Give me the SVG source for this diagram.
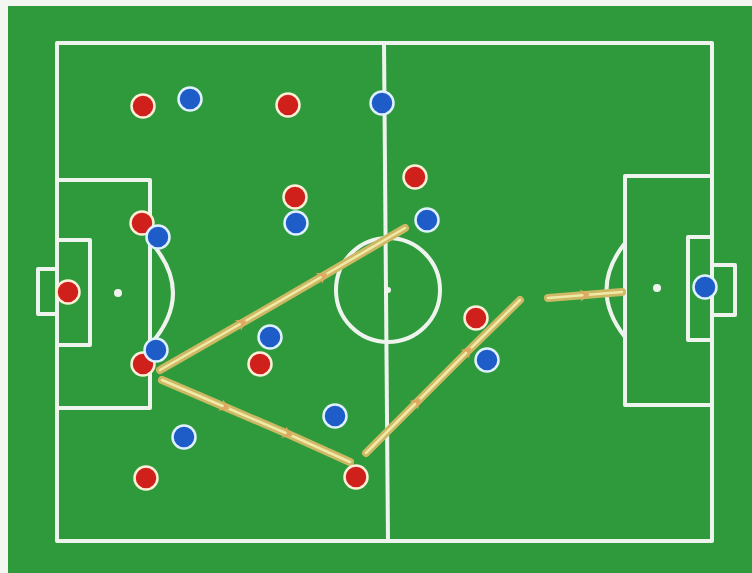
<svg xmlns="http://www.w3.org/2000/svg" width="752" height="573" viewBox="0 0 752 573">
<style>
.ln{fill:none;stroke:#eef3ee;stroke-width:4;stroke-linejoin:round}
.red{fill:#d0201c;stroke:#fbefd8;stroke-width:2.5}
.blue{fill:#1e5cc8;stroke:#dff0ff;stroke-width:2.5}
.passo{fill:none;stroke:#cdb864;stroke-width:8;stroke-linecap:round}
.passi{fill:none;stroke:#f1e9a8;stroke-width:2.5;stroke-linecap:round}
</style>
<defs>
<marker id="chev" viewBox="0 0 10 10" refX="5" refY="5" markerWidth="5" markerHeight="5" orient="auto" markerUnits="strokeWidth">
<path d="M1,0 L9,5 L1,10 L4,5 Z" fill="#e0a860"/>
</marker>
</defs>
<rect x="0" y="0" width="752" height="573" fill="#f4f6f2"/>
<rect x="8" y="6" width="744" height="567" fill="#2f9a3c"/>
<g id="pitch">
<rect class="ln" x="57" y="43" width="655" height="498"/>
<line class="ln" x1="384" y1="43" x2="388" y2="541"/>
<circle class="ln" cx="388" cy="290" r="52"/>
<circle cx="388" cy="290" r="3" fill="#eef3ee"/>
<rect class="ln" x="57" y="180" width="93" height="228"/>
<rect class="ln" x="57" y="240" width="33" height="105"/>
<rect class="ln" x="38" y="269" width="19" height="45"/>
<circle cx="118" cy="293" r="4" fill="#eef3ee"/>
<path class="ln" d="M150,241 Q196,293 150,345"/>
<rect class="ln" x="625" y="176" width="87" height="229"/>
<rect class="ln" x="688" y="237" width="24" height="103"/>
<rect class="ln" x="712" y="265" width="23" height="50"/>
<circle cx="657" cy="288" r="4" fill="#eef3ee"/>
<path class="ln" d="M625,243 Q588,290 625,337"/>
</g>
<g id="connectors">
<path class="passo" d="M160,370 L242,323 L323,276 L405,228"/>
<path class="passi" d="M160,370 L242,323 L323,276 L405,228" marker-mid="url(#chev)"/>
<path class="passo" d="M162,380 L225,407 L288,434 L350,462"/>
<path class="passi" d="M162,380 L225,407 L288,434 L350,462" marker-mid="url(#chev)"/>
<path class="passo" d="M366,453 L417,402 L468,351 L520,300"/>
<path class="passi" d="M366,453 L417,402 L468,351 L520,300" marker-mid="url(#chev)"/>
<path class="passo" d="M548,298 L585,295 L622,292"/>
<path class="passi" d="M548,298 L585,295 L622,292" marker-mid="url(#chev)"/>
</g>
<g id="red-team">
<g id="r1"><circle class="red" cx="143" cy="106" r="11.5"/></g>
<g id="r2"><circle class="red" cx="288" cy="105" r="11.5"/></g>
<g id="r3"><circle class="red" cx="295" cy="197" r="11.5"/></g>
<g id="r4"><circle class="red" cx="415" cy="177" r="11.5"/></g>
<g id="r5"><circle class="red" cx="142" cy="223" r="11.5"/></g>
<g id="r6"><circle class="red" cx="68" cy="292" r="11.5"/></g>
<g id="r7"><circle class="red" cx="143" cy="364" r="11.5"/></g>
<g id="r8"><circle class="red" cx="260" cy="364" r="11.5"/></g>
<g id="r9"><circle class="red" cx="476" cy="318" r="11.5"/></g>
<g id="r10"><circle class="red" cx="356" cy="477" r="11.5"/></g>
<g id="r11"><circle class="red" cx="146" cy="478" r="11.5"/></g>
</g>
<g id="blue-team">
<g id="b1"><circle class="blue" cx="190" cy="99" r="11.5"/></g>
<g id="b2"><circle class="blue" cx="382" cy="103" r="11.5"/></g>
<g id="b3"><circle class="blue" cx="296" cy="223" r="11.5"/></g>
<g id="b4"><circle class="blue" cx="427" cy="220" r="11.5"/></g>
<g id="b5"><circle class="blue" cx="158" cy="237" r="11.5"/></g>
<g id="b6"><circle class="blue" cx="156" cy="350" r="11.5"/></g>
<g id="b7"><circle class="blue" cx="270" cy="337" r="11.5"/></g>
<g id="b8"><circle class="blue" cx="487" cy="360" r="11.5"/></g>
<g id="b9"><circle class="blue" cx="335" cy="416" r="11.5"/></g>
<g id="b10"><circle class="blue" cx="184" cy="437" r="11.5"/></g>
<g id="b11"><circle class="blue" cx="705" cy="287" r="11.5"/></g>
</g>
</svg>
